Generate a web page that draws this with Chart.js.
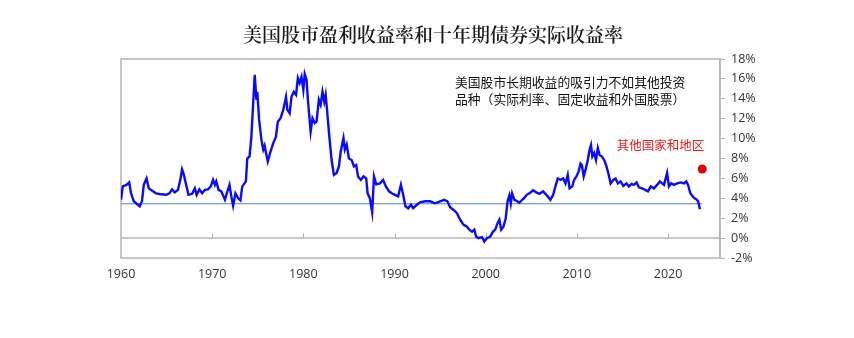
<!DOCTYPE html>
<html>
<head>
<meta charset="utf-8">
<script src="https://cdn.jsdelivr.net/npm/chart.js@4"></script>
<style>
  body { margin: 0; background: #fff; }
  #wrap { width: 854px; height: 338px; }
</style>
</head>
<body>
<div id="wrap"><canvas id="earningsChart" width="854" height="338"></canvas></div>
<script>
// years (decimal) and US equity earnings yield minus real 10y yield, %
let years = [
  1960.0, 1960.2, 1960.6, 1960.9, 1961.1, 1961.4, 1961.85, 1962.05, 1962.3, 1962.5,
  1962.8, 1963.05, 1963.5, 1963.85, 1964.4, 1965.0, 1965.3, 1965.6, 1965.9, 1966.25,
  1966.5, 1966.7, 1966.9, 1967.15, 1967.4, 1967.8, 1968.1, 1968.3, 1968.6, 1968.9,
  1969.2, 1969.55, 1969.85, 1970.1, 1970.3, 1970.45, 1970.7, 1971.0, 1971.4, 1971.6,
  1971.9, 1972.1, 1972.3, 1972.55, 1972.85, 1973.1, 1973.3, 1973.55, 1973.7, 1973.85,
  1974.1, 1974.3, 1974.5, 1974.67, 1974.85, 1974.95, 1975.15, 1975.4, 1975.6, 1975.75,
  1975.95, 1976.1, 1976.4, 1976.7, 1977.0, 1977.2, 1977.5, 1977.8, 1978.1, 1978.25,
  1978.5, 1978.7, 1978.95, 1979.2, 1979.4, 1979.6, 1979.8, 1980.0, 1980.15, 1980.35,
  1980.5, 1980.8, 1981.0, 1981.25, 1981.45, 1981.7, 1981.9, 1982.1, 1982.3, 1982.45,
  1982.6, 1982.85, 1983.1, 1983.35, 1983.65, 1983.9, 1984.1, 1984.4, 1984.55, 1984.75,
  1985.0, 1985.3, 1985.55, 1985.8, 1986.0, 1986.3, 1986.6, 1986.9, 1987.05, 1987.3,
  1987.55, 1987.75, 1988.0, 1988.4, 1988.75, 1989.05, 1989.4, 1989.7, 1990.05, 1990.4,
  1990.7, 1990.95, 1991.2, 1991.5, 1991.8, 1992.05, 1992.45, 1992.8, 1993.35, 1993.9,
  1994.45, 1995.0, 1995.45, 1995.8, 1996.1, 1996.45, 1996.85, 1997.2, 1997.55, 1997.95,
  1998.2, 1998.5, 1998.75, 1998.95, 1999.2, 1999.6, 1999.85, 2000.15, 2000.5, 2000.8,
  2001.05, 2001.3, 2001.5, 2001.7, 2001.95, 2002.2, 2002.4, 2002.6, 2002.75, 2002.9,
  2003.15, 2003.45, 2003.7, 2004.0, 2004.2, 2004.5, 2004.8, 2005.2, 2005.55, 2005.9,
  2006.3, 2006.65, 2007.1, 2007.4, 2007.65, 2007.9, 2008.2, 2008.5, 2008.75, 2009.0,
  2009.2, 2009.5, 2009.7, 2009.95, 2010.2, 2010.4, 2010.55, 2010.75, 2010.95, 2011.2,
  2011.4, 2011.55, 2011.7, 2011.9, 2012.1, 2012.3, 2012.5, 2012.75, 2013.0, 2013.25,
  2013.5, 2013.7, 2014.0, 2014.25, 2014.5, 2014.8, 2015.1, 2015.45, 2015.7, 2016.0,
  2016.25, 2016.55, 2016.8, 2017.15, 2017.5, 2017.8, 2018.1, 2018.45, 2018.8, 2019.1,
  2019.35, 2019.55, 2019.7, 2019.9, 2020.1, 2020.35, 2020.65, 2021.0, 2021.4, 2021.75,
  2022.0, 2022.2, 2022.45, 2022.7, 2022.9, 2023.1, 2023.3, 2023.5
];
let spread = [
  3.85, 5.2, 5.35, 5.6, 4.5, 3.7, 3.35, 3.2, 3.7, 5.35,
  6.0, 5.0, 4.7, 4.5, 4.4, 4.35, 4.5, 4.9, 4.6, 4.85,
  5.85, 6.9, 6.35, 5.35, 4.35, 4.45, 5.0, 4.35, 4.9, 4.5,
  4.85, 4.9, 5.2, 5.85, 5.35, 5.7, 4.85, 4.7, 3.85, 4.5,
  5.35, 4.2, 3.25, 4.5, 4.0, 3.8, 5.2, 5.5, 5.7, 8.0,
  8.2, 10.2, 13.6, 16.4, 13.9, 14.7, 11.9, 9.9, 8.9, 9.3,
  8.35, 7.7, 8.7, 9.55, 10.2, 11.7, 12.05, 12.9, 14.2, 12.9,
  12.55, 14.2, 14.7, 14.4, 16.1, 15.6, 16.2, 14.9, 16.5, 15.9,
  13.9, 10.7, 12.05, 11.55, 11.7, 13.9, 13.4, 14.7, 13.7, 14.4,
  12.9, 10.2, 7.85, 6.35, 6.55, 7.2, 8.7, 10.05, 8.9, 9.4,
  8.0, 7.85, 7.2, 7.35, 6.2, 5.85, 6.2, 6.0, 4.5, 4.0,
  2.6, 6.2, 5.4, 5.5, 5.85, 5.2, 4.7, 4.5, 4.35, 4.2,
  5.35, 4.35, 3.2, 3.0, 3.35, 3.0, 3.35, 3.6, 3.7, 3.7,
  3.5, 3.7, 3.85, 3.7, 3.1, 2.85, 2.5, 1.85, 1.35, 1.15,
  0.85, 0.65, 0.85, 0.15, 0.0, 0.1, -0.35, 0.0, 0.15, 0.65,
  0.85, 1.5, 1.85, 0.85, 1.15, 2.0, 3.7, 4.3, 3.5, 4.5,
  3.85, 3.7, 3.55, 3.85, 4.0, 4.35, 4.5, 4.8, 4.6, 4.45,
  4.7, 4.35, 3.85, 4.35, 5.2, 6.0, 5.85, 6.0, 5.5, 6.35,
  5.0, 5.2, 5.85, 6.2, 6.7, 7.5, 7.35, 6.2, 6.85, 7.85,
  8.9, 9.35, 8.2, 8.55, 7.85, 9.05, 8.35, 8.2, 7.85, 7.2,
  6.35, 5.5, 5.85, 6.0, 5.5, 5.7, 5.25, 5.5, 5.2, 5.45,
  5.35, 5.6, 5.1, 5.0, 4.85, 4.7, 5.2, 5.0, 5.35, 5.7,
  5.5, 5.35, 5.85, 6.55, 5.2, 5.5, 5.35, 5.5, 5.6, 5.5,
  5.7, 5.35, 4.5, 4.2, 4.0, 3.9, 3.7, 2.9
];
let avgLevel = 3.45;
let avgSpan = [1960, 2023.75];
let otherMarkets = { year: 2023.75, value: 6.95 };
let xTicks = [1960, 1970, 1980, 1990, 2000, 2010, 2020];

let titleText = '美国股市盈利收益率和十年期债券实际收益率';
let noteLines = ['美国股市长期收益的吸引力不如其他投资', '品种（实际利率、固定收益和外国股票）'];
let otherLabel = '其他国家和地区';

let boxColor = '#b4b4b4';

// frame, zero line, decade ticks on the zero line and all the text
let decorations = {
  id: 'decorations',
  beforeDatasetsDraw(chart) {
    let ctx = chart.ctx;
    let a = chart.chartArea;
    let x = chart.scales.x;
    let y = chart.scales.y;
    ctx.save();
    ctx.strokeStyle = boxColor;
    ctx.lineWidth = 1.5;
    ctx.strokeRect(a.left, a.top, a.right - a.left, a.bottom - a.top);
    let y0 = y.getPixelForValue(0);
    ctx.beginPath();
    ctx.moveTo(a.left, y0);
    ctx.lineTo(a.right, y0);
    ctx.stroke();
    ctx.lineWidth = 1;
    xTicks.forEach(function (t) {
      if (t === xTicks[0]) return;
      let px = Math.round(x.getPixelForValue(t)) + 0.5;
      ctx.beginPath();
      ctx.moveTo(px, y0);
      ctx.lineTo(px, y0 - 5);
      ctx.stroke();
    });
    ctx.restore();
  },
  afterDraw(chart) {
    let ctx = chart.ctx;
    let x = chart.scales.x;
    ctx.save();
    ctx.textBaseline = 'middle';
    ctx.fillStyle = '#1a1a1a';
    ctx.textAlign = 'center';
    ctx.font = '600 19px "Noto Serif CJK SC", "Noto Sans CJK SC", serif';
    ctx.fillText(titleText, 433, 35);

    ctx.textAlign = 'left';
    ctx.font = '12.8px "Noto Sans CJK SC", sans-serif';
    ctx.fillStyle = '#111';
    ctx.fillText(noteLines[0], 455, 82);
    ctx.fillText(noteLines[1], 455, 99);

    ctx.fillStyle = '#f01818';
    ctx.font = '12.5px "Noto Sans CJK SC", sans-serif';
    ctx.textAlign = 'right';
    ctx.fillText(otherLabel, x.getPixelForValue(otherMarkets.year) + 2, 145);
    ctx.restore();
  }
};

let chartData = years.map(function (yr, i) { return { x: yr, y: spread[i] }; });

let spreadChart = new Chart(document.getElementById('earningsChart'), {
  type: 'line',
  data: {
    datasets: [{
      label: 'US spread',
      data: chartData,
      borderColor: '#0a0aff',
      borderWidth: 2.4,
      pointRadius: 0,
      tension: 0,
      fill: false
    }, {
      label: 'Average',
      data: [{ x: avgSpan[0], y: avgLevel }, { x: avgSpan[1], y: avgLevel }],
      borderColor: '#4a86d6',
      borderWidth: 1.2,
      pointRadius: 0
    }, {
      label: otherLabel,
      data: [{ x: otherMarkets.year, y: otherMarkets.value }],
      showLine: false,
      pointRadius: 4.5,
      pointBackgroundColor: '#e00000',
      pointBorderColor: '#e00000',
      pointBorderWidth: 0
    }]
  },
  options: {
    responsive: false,
    animation: false,
    events: [],
    layout: { padding: { left: 121, top: 59, right: 0, bottom: 0 } },
    plugins: {
      legend: { display: false },
      tooltip: { enabled: false },
      title: { display: false }
    },
    scales: {
      x: {
        type: 'linear',
        min: 1960,
        max: 2025.7,
        afterBuildTicks: function (scale) {
          scale.ticks = xTicks.map(function (v) { return { value: v }; });
        },
        afterFit: function (scale) { scale.height = 80; },
        grid: { display: false, drawTicks: false },
        border: { display: false },
        ticks: {
          padding: 9,
          maxRotation: 0,
          autoSkip: false,
          color: '#333',
          font: { family: '"Open Sans", sans-serif', size: 12.5 },
          callback: function (v) { return String(v); }
        }
      },
      y: {
        position: 'right',
        min: -2,
        max: 18,
        afterFit: function (scale) { scale.width = 134; },
        ticks: {
          stepSize: 2,
          padding: 6,
          color: '#333',
          font: { family: '"Open Sans", sans-serif', size: 12.5 },
          callback: function (v) { return v + '%'; }
        },
        grid: { drawOnChartArea: false, drawTicks: true, tickLength: 5, color: boxColor, tickColor: boxColor },
        border: { display: true, color: boxColor, width: 1.5 }
      }
    }
  },
  plugins: [decorations]
});
</script>
</body>
</html>
